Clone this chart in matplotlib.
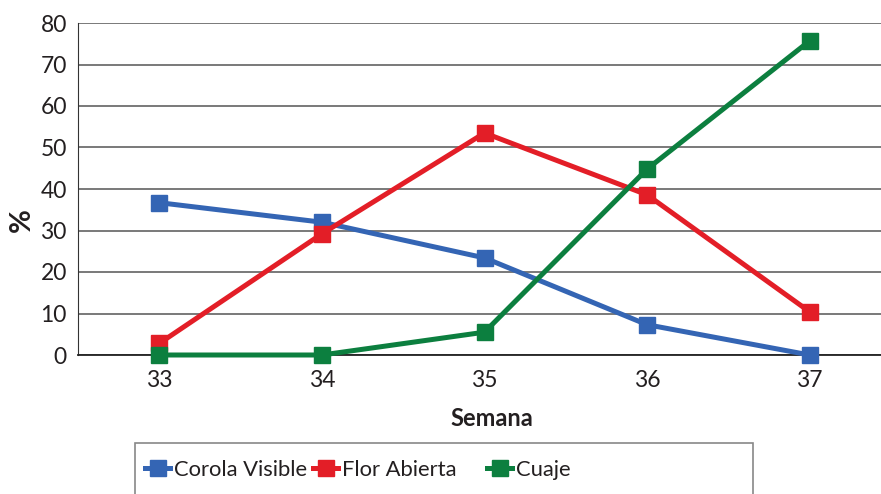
import matplotlib
matplotlib.use("Agg")
import matplotlib.pyplot as plt
from matplotlib.patches import Rectangle
from matplotlib.lines import Line2D

weeks = [33, 34, 35, 36, 37]
corola_visible = [36.7, 32.0, 23.4, 7.3, 0.0]
flor_abierta = [2.8, 29.2, 53.5, 38.6, 10.4]
cuaje = [0.0, 0.0, 5.5, 44.8, 75.7]
series_names = ["Corola Visible", "Flor Abierta", "Cuaje"]
colors = ["#3465B4", "#E31E27", "#0C7F3F"]
yticks = [0, 10, 20, 30, 40, 50, 60, 70, 80]

plt.rcParams['font.family'] = ['Lato', 'DejaVu Sans']

W, H = 881, 494
fig = plt.figure(figsize=(W / 100, H / 100), dpi=100)
left, right, top, bottom = 78, 891, 23, 355
ax = fig.add_axes([left / W, 1 - bottom / H, (right - left) / W, (bottom - top) / H])

lines = []
for vals, name, c in zip([corola_visible, flor_abierta, cuaje], series_names, colors):
    ln, = ax.plot(weeks, vals, color=c, lw=3.6, marker='s', markersize=12,
                  solid_joinstyle='miter', label=name, clip_on=False, zorder=3)
    lines.append(ln)

ax.set_xlim(32.5, 37.5)
ax.set_ylim(0, 80)
ax.set_xticks(weeks)
ax.set_yticks(yticks)
ax.tick_params(axis='both', length=0, labelsize=16.5, colors='#231F20')
ax.tick_params(axis='x', pad=11)
ax.tick_params(axis='y', pad=8)
ax.yaxis.grid(True, color='#555555', lw=1.1)
ax.set_axisbelow(True)
for s in ['top', 'right']:
    ax.spines[s].set_visible(False)
ax.spines['left'].set_color('#333333')
ax.spines['bottom'].set_color('#222222')
ax.spines['bottom'].set_linewidth(1.3)

fig.text(492 / W, 1 - 418 / H, "Semana", ha='center', va='center', fontsize=17,
         fontweight='bold', color='#231F20')
fig.text(22 / W, 1 - 220 / H, "%", ha='center', va='center', fontsize=21,
         fontweight='bold', rotation=90, color='#231F20')

rect = Rectangle((135 / W, -0.05), (753 - 135) / W, (0.05 + 1 - 443 / H),
                 transform=fig.transFigure, fill=False, edgecolor='#888888',
                 lw=1.2, clip_on=False)
fig.patches.append(rect)

legend_x = [145, 313, 487]
for ln, name, x in zip(lines, series_names, legend_x):
    h = Line2D([], [], color=ln.get_color(), lw=3.6, marker='s', markersize=12)
    leg = fig.legend([h], [name], loc='center left', bbox_to_anchor=(x / W, 1 - 470 / H),
                     frameon=False, fontsize=15.8, handlelength=1.15, handletextpad=0.15,
                     borderaxespad=0, borderpad=0)
    for t in leg.get_texts():
        t.set_color('#231F20')

fig.savefig("out.png", dpi=100)
